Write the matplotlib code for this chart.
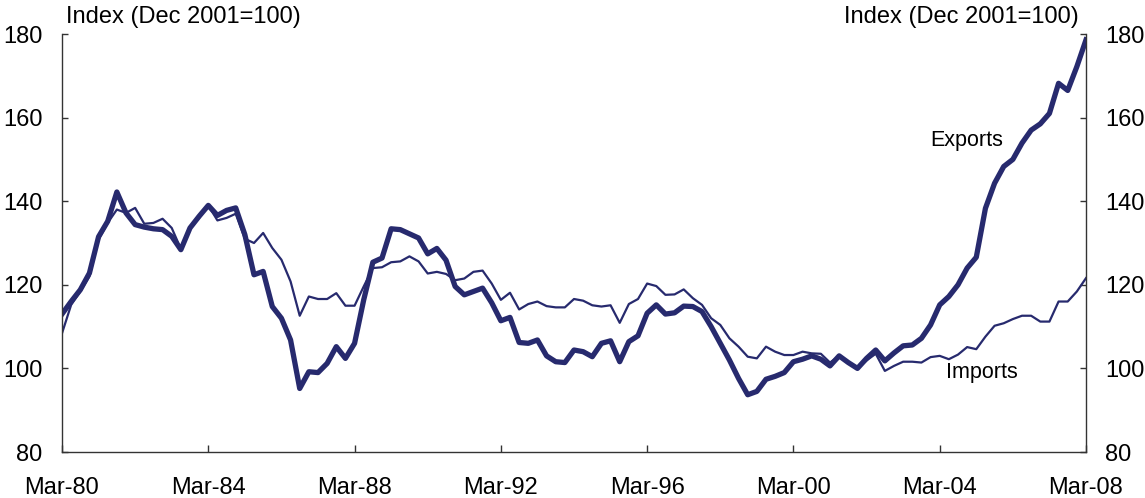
import matplotlib
matplotlib.use("Agg")
import matplotlib.pyplot as plt

plt.rcParams['font.family'] = ['Liberation Sans', 'DejaVu Sans']

exports = [113.0, 116.0, 118.8, 122.8, 131.5, 135.2, 142.2, 137.2, 134.4, 133.8,
           133.4, 133.2, 131.6, 128.4, 133.6, 136.4, 139.0, 136.6, 137.8, 138.4,
           132.0, 122.4, 123.2, 114.8, 112.0, 106.8, 95.2, 99.2, 99.0, 101.2,
           105.2, 102.4, 106.0, 116.4, 125.4, 126.4, 133.4, 133.2, 132.2, 131.2,
           127.4, 128.7, 125.9, 119.6, 117.6, 118.4, 119.2, 115.7, 111.4, 112.2,
           106.2, 106.0, 106.8, 103.0, 101.6, 101.4, 104.4, 104.0, 102.8, 106.0,
           106.6, 101.6, 106.4, 107.8, 113.2, 115.2, 113.0, 113.3, 114.9, 114.8,
           113.6, 110.0, 106.0, 102.0, 97.6, 93.7, 94.5, 97.4, 98.1, 99.0,
           101.6, 102.2, 103.0, 102.2, 100.6, 103.0, 101.4, 100.0, 102.4, 104.4,
           101.8, 103.7, 105.4, 105.6, 107.2, 110.4, 115.2, 117.2, 120.0, 124.0,
           126.6, 138.3, 144.3, 148.3, 150.0, 153.9, 157.0, 158.5, 161.0, 168.2,
           166.5, 172.2, 178.6]

imports = [108.4, 115.2, 118.4, 122.0, 130.8, 134.8, 138.0, 137.2, 138.4, 134.6,
           134.8, 135.8, 133.6, 128.6, 133.6, 136.0, 139.0, 135.4, 136.0, 137.0,
           131.0, 130.0, 132.4, 128.8, 126.0, 120.8, 112.6, 117.2, 116.6, 116.6,
           118.0, 115.0, 115.0, 119.6, 124.0, 124.2, 125.4, 125.6, 126.8, 125.6,
           122.7, 123.1, 122.6, 121.1, 121.5, 123.1, 123.4, 120.3, 116.4, 118.1,
           114.1, 115.4, 116.0, 114.9, 114.6, 114.6, 116.6, 116.2, 115.1, 114.8,
           115.1, 110.9, 115.4, 116.6, 120.3, 119.7, 117.6, 117.7, 118.9, 116.8,
           115.2, 112.0, 110.4, 107.2, 105.2, 102.8, 102.4, 105.2, 104.0, 103.2,
           103.2, 104.0, 103.6, 103.5, 101.4, 103.0, 101.6, 100.0, 101.9, 103.5,
           99.4, 100.6, 101.6, 101.6, 101.4, 102.7, 103.0, 102.2, 103.3, 105.1,
           104.6, 107.6, 110.2, 110.8, 111.8, 112.6, 112.6, 111.2, 111.2, 116.0,
           116.0, 118.4, 121.6]

tick_labels = ['Mar-80', 'Mar-84', 'Mar-88', 'Mar-92', 'Mar-96', 'Mar-00', 'Mar-04', 'Mar-08']
y_ticks = [80, 100, 120, 140, 160, 180]
quarters = list(range(len(exports)))

color = '#272a6e'
fig = plt.figure(figsize=(11.45, 4.98), dpi=100)
ax = fig.add_axes([62/1145, 1-452/498, (1086-62)/1145, (452-34)/498])

ax.plot(quarters, imports, color=color, lw=1.6, solid_joinstyle='round')
ax.plot(quarters, exports, color=color, lw=3.8, solid_joinstyle='round')

ax.set_xlim(0, len(exports) - 1)
ax.set_ylim(80, 180)
ax.set_xticks(range(0, len(exports), 16))
ax.set_xticklabels(tick_labels)
ax.set_yticks(y_ticks)

ax.spines['top'].set_visible(False)
for s in ['left', 'right', 'bottom']:
    ax.spines[s].set_color('#333333')
    ax.spines[s].set_linewidth(1.0)

ax.tick_params(axis='y', direction='in', length=4.5, width=1, colors='#333333',
               labelcolor='black', labelsize=17, pad=14, right=True, labelright=True)
ax.tick_params(axis='x', direction='in', length=5, width=1, colors='#333333',
               labelcolor='black', labelsize=17, pad=18)

fig.text(66/1145, 1-17/498, 'Index (Dec 2001=100)', fontsize=17, ha='left', va='center')
fig.text(1079/1145, 1-17/498, 'Index (Dec 2001=100)', fontsize=17, ha='right', va='center')

ax.text(99.0, 154.6, 'Exports', fontsize=15.5, ha='center', va='center')
ax.text(100.6, 99.1, 'Imports', fontsize=15.5, ha='center', va='center')

fig.savefig('out.png', dpi=100)
